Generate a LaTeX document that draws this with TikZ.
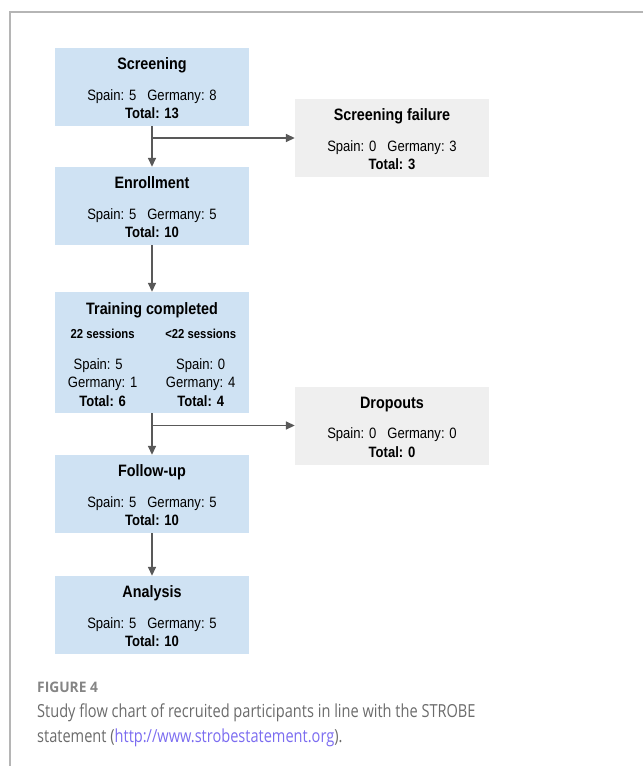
\documentclass[tikz,border=0pt]{standalone}
\usepackage{fontspec}
\setmainfont{Liberation Sans}[FakeStretch=0.87]
\newfontfamily\capfont{Open Sans}[FakeStretch=0.81]
\newfontfamily\figfont{Open Sans}[FakeStretch=0.95]
\usetikzlibrary{arrows.meta}
\definecolor{boxblue}{HTML}{CFE2F3}
\definecolor{boxgrey}{HTML}{EFEFEF}
\definecolor{linegrey}{HTML}{595959}
\definecolor{framegrey}{HTML}{B5B5B5}
\definecolor{capgrey}{HTML}{6B6B6B}
\definecolor{labelgrey}{HTML}{858585}
\definecolor{linkblue}{HTML}{7B6CF0}
\tikzset{
  stage/.style={fill=boxblue, minimum width=194pt, minimum height=78pt,
    inner sep=0pt, align=center, font=\fontsize{15}{18.5}\selectfont},
  excluded/.style={stage, fill=boxgrey},
  flow/.style={draw=linegrey, line width=1.6pt, -{Triangle[length=9pt,width=8pt]}},
}
\newcommand{\stagetitle}[2][15pt]{{\fontsize{16.5}{18}\selectfont\bfseries\rule{0pt}{#1}#2}}
\newcommand{\counts}[2]{Spain: #1\hspace{11pt}Germany: #2}
\begin{document}
\begin{tikzpicture}[x=1pt,y=1pt]
  \useasboundingbox (0,0) rectangle (643,-766);
  \draw[framegrey, line width=1.2pt] (643,-12) -- (10,-12) -- (10,-766);

  % main stages
  \node[stage] (screen) at (152,-87) {\stagetitle{Screening}\\[12pt]
    \counts{5}{8}\\ \textbf{Total: 13}};
  \node[stage] (enrol) at (152,-206) {\stagetitle{Enrollment}\\[12pt]
    \counts{5}{5}\\ \textbf{Total: 10}};
  \node[stage, minimum height=121pt] (train) at (152,-352.5) {\stagetitle[21pt]{Training completed}\\[7pt]
    \begin{tabular}{@{}c@{\hspace{28pt}}c@{}}
      {\fontsize{13}{15}\selectfont\bfseries 22 sessions} &
      {\fontsize{13}{15}\selectfont\bfseries <22 sessions}\\[12pt]
      Spain: 5\hspace{9pt} & Spain: 0\hspace{9pt}\\
      Germany: 1 & Germany: 4\\
      \textbf{Total: 6} & \textbf{Total: 4}
    \end{tabular}};
  \node[stage] (follow) at (152,-494) {\stagetitle{Follow-up}\\[12pt]
    \counts{5}{5}\\ \textbf{Total: 10}};
  \node[stage] (analysis) at (152,-615) {\stagetitle{Analysis}\\[12pt]
    \counts{5}{5}\\ \textbf{Total: 10}};

  % exclusions
  \node[excluded] (fail) at (392,-138) {\stagetitle{Screening failure}\\[12pt]
    \counts{0}{3}\\ \textbf{Total: 3}};
  \node[excluded] (drop) at (392,-425.5) {\stagetitle{Dropouts}\\[12pt]
    \counts{0}{0}\\ \textbf{Total: 0}};

  \draw[flow] (screen) -- (enrol);
  \draw[flow] (enrol) -- (train);
  \draw[flow] (train) -- (follow);
  \draw[flow] (follow) -- (analysis);
  \coordinate (split1) at (screen.south |- fail.west);
  \coordinate (split2) at (train.south |- drop.west);
  \draw[flow] (split1) -- (fail.west);
  \draw[flow] (split2) -- (drop.west);

  % caption
  \node[anchor=base west, inner sep=0pt, text=labelgrey,
    font=\figfont\bfseries\fontsize{14.5}{16}\selectfont] (figno) at (37,-692) {FIGURE 4};
  \node[anchor=base west, inner sep=0pt, text=capgrey, align=left,
    font=\capfont\fontsize{18}{25}\selectfont] (caption) at (37,-742)
    {Study flow chart of recruited participants in line with the STROBE\\
     statement ({\color{linkblue}http://www.strobestatement.org}).};
\end{tikzpicture}
\end{document}
